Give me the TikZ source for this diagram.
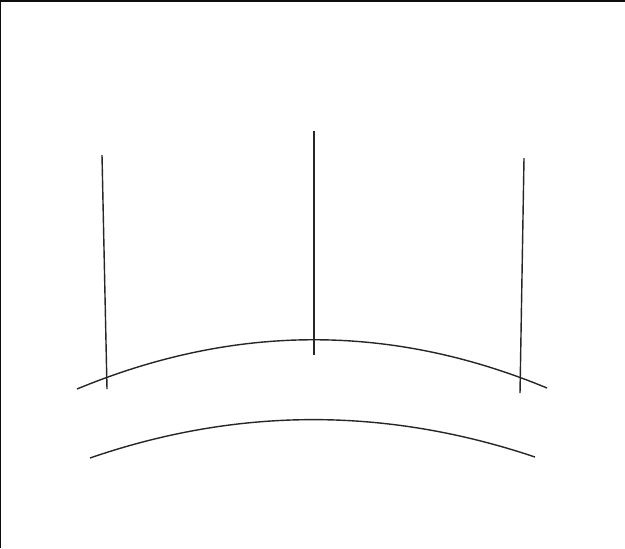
\documentclass[tikz,border=0pt]{standalone}
\usepackage{tikz}

\begin{document}
\begin{tikzpicture}[x=0.03cm, y=-0.03cm, line width=1.2pt, color=black!85]
				\useasboundingbox (0, 0) rectangle (625, 548);
				\fill[black!95] (0, 0) rectangle (625, 2.2);
				\fill[black!95] (0, 0) rectangle (1.3, 548);
				\coordinate (upL) at (77, 389);
				\coordinate (upR) at (547, 388);
				\coordinate (loL) at (90, 458);
				\coordinate (loR) at (535, 457);
				\draw (upL) .. controls (234, 324) and (390, 323) .. (upR);
				\draw (loL) .. controls (238, 407) and (386, 407) .. (loR);
				\coordinate (leftTop) at (102, 155);
				\coordinate (leftBot) at (107, 389);
				\coordinate (midTop) at (314, 131);
				\coordinate (midBot) at (314, 355);
				\coordinate (rightTop) at (524, 158);
				\coordinate (rightBot) at (520, 393);
				\draw (leftTop) -- (leftBot);
				\draw (midTop) -- (midBot);
				\draw (rightTop) -- (rightBot);
			\end{tikzpicture}
\end{document}
